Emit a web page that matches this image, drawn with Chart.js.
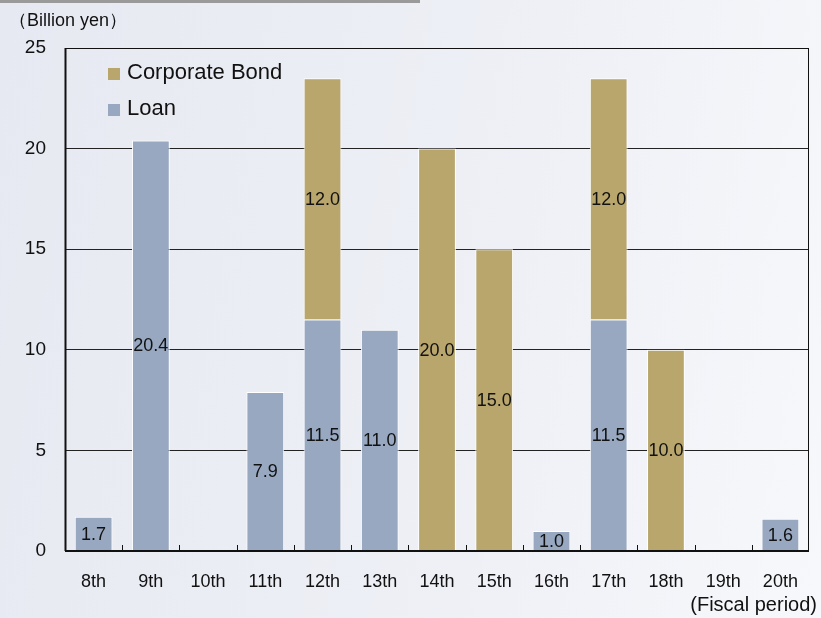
<!DOCTYPE html>
<html>
<head>
<meta charset="utf-8">
<script src="https://cdn.jsdelivr.net/npm/chart.js@4.4.0/dist/chart.umd.min.js"></script>
<style>
  html, body { margin: 0; padding: 0; }
  body {
    width: 821px; height: 618px; overflow: hidden; position: relative;
    background: linear-gradient(100deg, #e6e9f1 0%, #eef0f6 60%, #f7f8fb 100%);
    font-family: Arial, "Liberation Sans", sans-serif;
  }
  .topbar { position: absolute; left: 0; top: 0; width: 420px; height: 3px; background: #9a9a9a; }
  .unit { position: absolute; left: 9px; top: 8px; font-size: 18px; color: #111; }
  .period { position: absolute; right: 4px; top: 593px; font-size: 20px; color: #111; }
  #wrap { position: absolute; left: 0; top: 0; width: 821px; height: 618px; }
</style>
</head>
<body>
<div class="topbar"></div>
<div id="wrap"><canvas id="financing-chart" width="821" height="618"></canvas></div>
<div class="unit">（Billion yen）</div>
<div class="period">(Fiscal period)</div>
<script>
// Financing by fiscal period (billion yen)
const periods = ['8th', '9th', '10th', '11th', '12th', '13th', '14th', '15th', '16th', '17th', '18th', '19th', '20th'];
const loan = [1.7, 20.4, null, 7.9, 11.5, 11.0, null, null, 1.0, 11.5, null, null, 1.6];
const corporateBond = [null, null, null, null, 12.0, null, 20.0, 15.0, null, 12.0, 10.0, null, null];
const yTicks = [0, 5, 10, 15, 20, 25];

const LOAN_COLOR = '#97a8c0';
const BOND_COLOR = '#b9a66d';
const FONT = 'Arial, "Liberation Sans", sans-serif';

// value labels centred inside each bar segment
const barLabels = {
  id: 'barLabels',
  afterDatasetsDraw(chart) {
    const ctx = chart.ctx;
    ctx.save();
    ctx.fillStyle = '#111';
    ctx.font = '18px ' + FONT;
    ctx.textAlign = 'center';
    ctx.textBaseline = 'middle';
    chart.data.datasets.forEach((ds, di) => {
      const meta = chart.getDatasetMeta(di);
      meta.data.forEach((bar, i) => {
        const v = ds.data[i];
        if (v == null) return;
        ctx.fillText(v.toFixed(1), bar.x, (bar.y + bar.base) / 2 + 1);
      });
    });
    ctx.restore();
  }
};

// frame round the plot area, short category ticks on the baseline, legend in the corner
const frame = {
  id: 'frame',
  afterDraw(chart) {
    const { ctx, chartArea: a } = chart;
    const x = chart.scales.x;
    ctx.save();
    ctx.strokeStyle = '#111';
    ctx.lineWidth = 1;
    ctx.strokeRect(a.left + 0.5, a.top + 0.5, a.right - a.left - 1, a.bottom - a.top);
    ctx.lineWidth = 2;
    ctx.beginPath();
    ctx.moveTo(a.left, a.bottom);
    ctx.lineTo(a.right, a.bottom);
    ctx.moveTo(a.left + 0.5, a.top);
    ctx.lineTo(a.left + 0.5, a.bottom);
    ctx.stroke();
    ctx.lineWidth = 1;
    ctx.beginPath();
    for (let i = 1; i < periods.length; i++) {
      const px = Math.round((x.getPixelForValue(i - 1) + x.getPixelForValue(i)) / 2) + 0.5;
      ctx.moveTo(px, a.bottom);
      ctx.lineTo(px, a.bottom - 6);
    }
    ctx.stroke();

    // legend
    const items = [['Corporate Bond', BOND_COLOR], ['Loan', LOAN_COLOR]];
    ctx.font = '22px ' + FONT;
    ctx.textBaseline = 'middle';
    ctx.textAlign = 'left';
    items.forEach(([label, color], k) => {
      const ly = 73 + k * 36;
      ctx.fillStyle = color;
      ctx.fillRect(108, ly - 5, 12, 12);
      ctx.fillStyle = '#111';
      ctx.fillText(label, 127, ly);
    });
    ctx.restore();
  }
};

new Chart(document.getElementById('financing-chart').getContext('2d'), {
  type: 'bar',
  data: {
    labels: periods,
    datasets: [
      {
        label: 'Loan',
        data: loan,
        backgroundColor: LOAN_COLOR,
        borderColor: '#ffffff',
        borderWidth: 1,
        barPercentage: 0.66,
        categoryPercentage: 1
      },
      {
        label: 'Corporate Bond',
        data: corporateBond,
        backgroundColor: BOND_COLOR,
        borderColor: '#ffffff',
        borderWidth: 1,
        barPercentage: 0.66,
        categoryPercentage: 1
      }
    ]
  },
  options: {
    responsive: false,
    animation: false,
    layout: { padding: { left: 0, right: 12, top: 48, bottom: 0 } },
    plugins: {
      legend: { display: false },
      tooltip: { enabled: false }
    },
    scales: {
      x: {
        stacked: true,
        grid: { display: false, drawTicks: false },
        border: { display: false },
        ticks: { color: '#111', font: { size: 18, family: FONT }, padding: 20, maxRotation: 0, autoSkip: false },
        afterFit(scale) { scale.height = 67; }
      },
      y: {
        stacked: true,
        min: 0,
        max: 25,
        afterBuildTicks(scale) { scale.ticks = yTicks.map(v => ({ value: v })); },
        grid: { color: '#222', lineWidth: 1, drawTicks: false },
        border: { display: false },
        ticks: { color: '#111', font: { size: 19, family: FONT }, padding: 19 },
        afterFit(scale) { scale.width = 65; }
      }
    }
  },
  plugins: [barLabels, frame]
});
</script>
</body>
</html>
